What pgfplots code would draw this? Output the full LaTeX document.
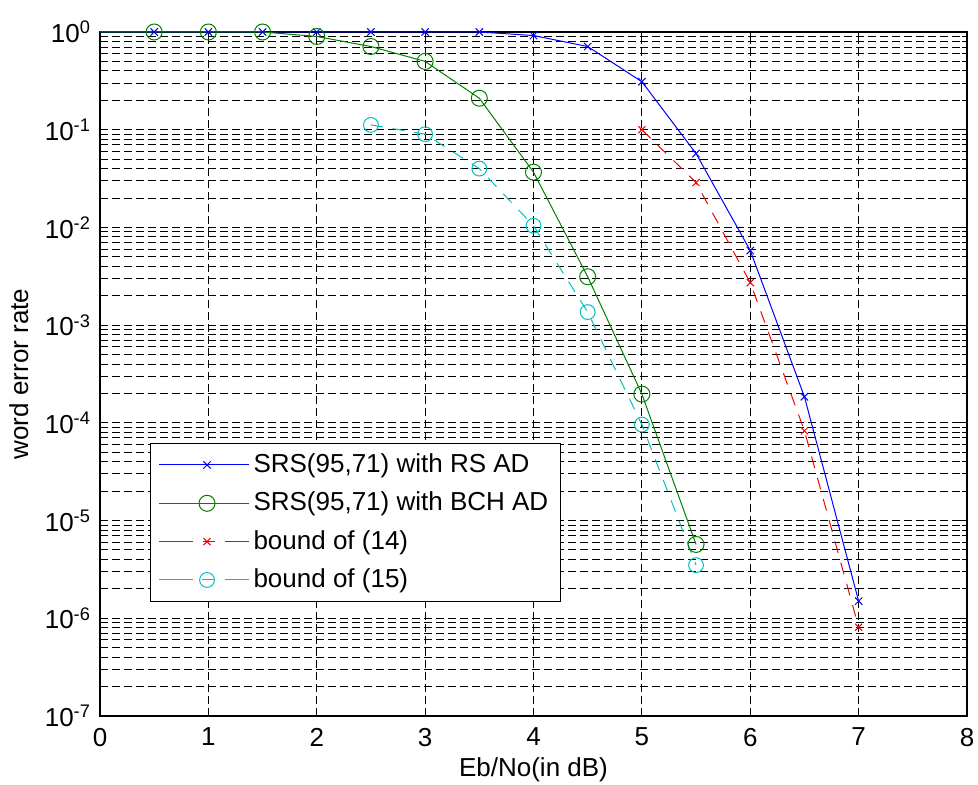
\documentclass[border=0pt]{standalone}
\usepackage{fontspec}
\setmainfont{Liberation Sans}
\usepackage{pgfplots}
\pgfplotsset{compat=1.18}
\definecolor{mgreen}{rgb}{0,0.5,0}
\definecolor{mcyan}{rgb}{0,0.75,0.75}
\pgfplotsset{
  redleg/.style={legend image code/.code={\path (-4pt,0pt) -- (41pt,0pt);
    \draw[##1, solid] (0pt,0pt) -- (8.5pt,0pt); \draw[##1, solid] (30.5pt,0pt) -- (40pt,0pt);
    \draw[##1, solid] plot[only marks] coordinates {(20pt,0pt)};}},
  cyanleg/.style={legend image code/.code={\path (-4pt,0pt) -- (41pt,0pt);
    \draw[##1, solid] (0pt,0pt) -- (8.5pt,0pt); \draw[##1, solid] (17.5pt,0pt) -- (22.5pt,0pt); \draw[##1, solid] (30.5pt,0pt) -- (40pt,0pt);
    \draw[##1, solid] plot[only marks] coordinates {(20pt,0pt)};}},
}
\begin{document}
\fontsize{13}{15.6}\selectfont
\begin{tikzpicture}
\begin{axis}[name=ax, scale only axis, width=433.5pt, height=342pt,
  ymode=log, log basis y=10,
  xmin=0, xmax=8, ymin=1e-7, ymax=1,
  xtick={0,1,2,3,4,5,6,7,8},
  xticklabels={0,1,2,3,4,5,6,7,8},
  ytick={1e-7,1e-6,1e-5,1e-4,1e-3,1e-2,1e-1,1},
  minor ytick={2e-7,3e-7,4e-7,5e-7,6e-7,7e-7,8e-7,9e-7,
               2e-6,3e-6,4e-6,5e-6,6e-6,7e-6,8e-6,9e-6,
               2e-5,3e-5,4e-5,5e-5,6e-5,7e-5,8e-5,9e-5,
               2e-4,3e-4,4e-4,5e-4,6e-4,7e-4,8e-4,9e-4,
               2e-3,3e-3,4e-3,5e-3,6e-3,7e-3,8e-3,9e-3,
               2e-2,3e-2,4e-2,5e-2,6e-2,7e-2,8e-2,9e-2,
               2e-1,3e-1,4e-1,5e-1,6e-1,7e-1,8e-1,9e-1},
  yticklabels={10\textsuperscript{-7},10\textsuperscript{-6},10\textsuperscript{-5},10\textsuperscript{-4},10\textsuperscript{-3},10\textsuperscript{-2},10\textsuperscript{-1},10\textsuperscript{0}},
  ticklabel style={font=\fontsize{13}{15.6}\selectfont},
  xticklabel style={yshift=-1.5pt},
  grid=both,
  major grid style={black, line width=0.5pt, dash pattern=on 4pt off 2pt},
  minor grid style={black, line width=0.5pt, dash pattern=on 4pt off 2pt},
  axis line style={black, line width=0.6pt},
  tick style={black, line width=0.5pt},
  major tick length=4pt, minor tick length=2.5pt,
  xlabel={Eb/No(in dB)}, ylabel={word error rate},
  xlabel style={at={(axis description cs:0.5,-0.079)}, anchor=center, font=\fontsize{13}{15.6}\selectfont},
  ylabel style={at={(axis description cs:-0.0935,0.5)}, anchor=center, font=\fontsize{13}{15.6}\selectfont},
  legend cell align=left,
  legend style={at={(0.0577,0.399)}, anchor=north west, draw=black, line width=0.5pt, fill=white,
    font=\fontsize{13}{15.6}\selectfont, row sep=3.8pt, inner xsep=4pt, inner ysep=3pt},
  legend image code/.code={\path (-4pt,0pt) -- (41pt,0pt);
    \draw[#1, mark repeat=2, mark phase=2] plot coordinates {(0pt,0pt) (20pt,0pt) (40pt,0pt)};},
]
\addplot[blue, line width=0.5pt, mark=x, mark size=2.6pt, mark phase=2, mark repeat=1, mark options={solid}]
coordinates {(0,1)(0.5,1)(1,1)(1.5,1)(2,1)(2.5,1)(3,1)(3.5,1)(4,0.92)(4.5,0.71)(5,0.31)(5.5,0.057)(6,0.0058)(6.5,1.85e-4)(7,1.5e-6)};
\addlegendentry{SRS(95,71) with RS AD}
\addplot[mgreen, line width=0.5pt, mark=o, mark size=4pt, mark phase=2, mark repeat=1, mark options={solid}]
coordinates {(0,1)(0.5,1)(1,1)(1.5,1)(2,0.9)(2.5,0.71)(3,0.5)(3.5,0.21)(4,0.0368)(4.5,0.00313)(5,1.97e-4)(5.5,5.7e-6)};
\addlegendentry{SRS(95,71) with BCH AD}
\addplot[red, line width=0.5pt, dash pattern=on 6pt off 5pt, mark=x, mark size=2.5pt, mark options={solid}, redleg]
coordinates {(5,0.1)(5.5,0.0288)(6,0.00272)(6.5,8.3e-5)(7,8.1e-7)};
\addlegendentry{bound of (14)}
\addplot[mcyan, line width=0.5pt, dash pattern=on 6pt off 5pt, mark=o, mark size=3.7pt, mark options={solid}, cyanleg]
coordinates {(2.5,0.112)(3,0.09)(3.5,0.040)(4,0.0104)(4.5,0.00136)(5,9.6e-5)(5.5,3.5e-6)};
\addlegendentry{bound of (15)}
\end{axis}
\pgfresetboundingbox
\path[use as bounding box] ([shift={(-50pt,-34.5pt)}]ax.south west) rectangle ([shift={(5.5pt,16pt)}]ax.north east);
\end{tikzpicture}
\end{document}
